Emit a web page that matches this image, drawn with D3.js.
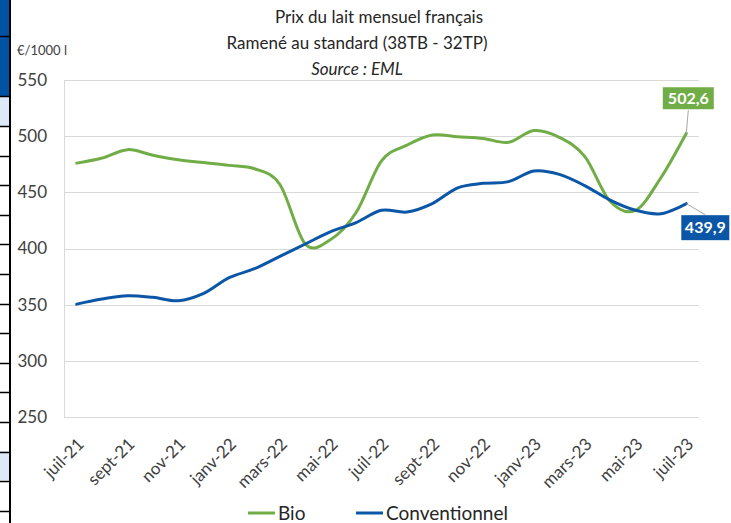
<!DOCTYPE html>
<html>
<head>
<meta charset="utf-8">
<script src="https://cdn.jsdelivr.net/npm/d3@7"></script>
<style>
  body { margin: 0; background: #fff; }
  svg { display: block; font-family: Lato, "Noto Sans", sans-serif; }
</style>
</head>
<body>
<div id="chart"></div>
<script>
// ===================== DATA =====================
const months = ["juil-21","août-21","sept-21","oct-21","nov-21","déc-21",
  "janv-22","févr-22","mars-22","avr-22","mai-22","juin-22",
  "juil-22","août-22","sept-22","oct-22","nov-22","déc-22",
  "janv-23","févr-23","mars-23","avr-23","mai-23","juin-23","juil-23"];
const bio = [476, 480.5, 488, 483, 479, 476.5, 474, 471, 457, 404, 408, 432,
  478, 492, 501, 499.5, 498, 494.5, 505, 499, 482, 442, 434, 463, 502.6];
const conventionnel = [350.5, 355, 358, 356.5, 353.5, 360, 374, 382, 393, 404, 415, 423,
  434, 432.5, 440, 454, 458, 459.5, 469, 466, 456, 443, 434, 431, 439.9];
const yTicks = [250, 300, 350, 400, 450, 500, 550];
const titleLines = ["Prix du lait mensuel français", "Ramené au standard (38TB - 32TP)", "Source : EML"];

const GREEN = "#70ad47", BLUE = "#0b56a6";

// ===================== CHART =====================
const width = 731, height = 523;
const svg = d3.select("#chart").append("svg")
  .attr("width", width)
  .attr("height", height);

// bits of the spreadsheet showing on the left
svg.append("rect").attr("x", 0).attr("y", 0).attr("width", 9).attr("height", 96).attr("fill", "#0052a3");
svg.append("rect").attr("x", 0).attr("y", 96).attr("width", 9).attr("height", 30).attr("fill", "#dde9f6");
svg.append("rect").attr("x", 0).attr("y", 451).attr("width", 9).attr("height", 29).attr("fill", "#dde9f6");
const rows = [36, 96];
for (let y = 126; y < height; y += 29.6) rows.push(Math.round(y));
svg.selectAll("line.row").data(rows).enter().append("line")
  .attr("x1", 0).attr("x2", 10).attr("y1", d => d + 0.5).attr("y2", d => d + 0.5)
  .attr("stroke", "#000").attr("stroke-width", 1.5);
svg.append("line").attr("x1", 10).attr("x2", 10).attr("y1", 0).attr("y2", height)
  .attr("stroke", "#000").attr("stroke-width", 2);

const x = d3.scalePoint().domain(months).range([64, 699]).padding(0.5);
const y = d3.scaleLinear().domain([250, 550]).range([417, 80]);

// grid
svg.append("g").selectAll("line").data(yTicks).enter().append("line")
  .attr("x1", 64).attr("x2", 699)
  .attr("y1", d => Math.round(y(d)) + 0.5).attr("y2", d => Math.round(y(d)) + 0.5)
  .attr("stroke", "#d9d9d9");
svg.append("line").attr("x1", 64.5).attr("x2", 64.5).attr("y1", y(550)).attr("y2", y(250))
  .attr("stroke", "#d9d9d9");

// y labels
svg.append("g").selectAll("text").data(yTicks).enter().append("text")
  .attr("x", 47).attr("y", d => y(d)).attr("dy", "0.35em")
  .attr("text-anchor", "end").attr("font-size", 17).attr("fill", "#404040")
  .text(d => d);
svg.append("text").attr("x", 17).attr("y", 55).attr("font-size", 13).attr("fill", "#404040")
  .text("€/1000 l");

// x labels
svg.append("g").selectAll("text").data(months.filter((d, i) => i % 2 === 0)).enter().append("text")
  .attr("transform", d => `translate(${x(d) + 4},${441}) rotate(-45)`)
  .attr("dy", "0.35em")
  .attr("text-anchor", "end").attr("font-size", 17).attr("fill", "#404040")
  .text(d => d);

// title
svg.append("g").selectAll("text").data(titleLines).enter().append("text")
  .attr("x", (d, i) => i === 0 ? 379 : 357)
  .attr("y", (d, i) => 23 + i * 26)
  .attr("text-anchor", "middle").attr("font-size", 17).attr("fill", "#262626")
  .attr("font-style", (d, i) => i === 2 ? "italic" : "normal")
  .text(d => d);

// lines
const line = d3.line()
  .x((d, i) => x(months[i]))
  .y(d => y(d))
  .curve(d3.curveCatmullRom.alpha(0));

svg.append("path").datum(bio).attr("d", line)
  .attr("fill", "none").attr("stroke", GREEN).attr("stroke-width", 3).attr("stroke-linecap", "round");
svg.append("path").datum(conventionnel).attr("d", line)
  .attr("fill", "none").attr("stroke", BLUE).attr("stroke-width", 3).attr("stroke-linecap", "round");

// last-value labels
const last = months.length - 1;
const fmt = v => d3.format(".1f")(v).replace(".", ",");
const tags = [
  { v: bio[last], c: GREEN, dx: 2, dy: -35, lx: 2, ly: -23, w: 51, h: 22 },
  { v: conventionnel[last], c: BLUE, dx: 19, dy: 24, lx: 19, ly: 11, w: 48, h: 25 }
];
tags.forEach(t => {
  const px = x(months[last]), py = y(t.v);
  svg.append("line").attr("x1", px).attr("y1", py).attr("x2", px + t.lx).attr("y2", py + t.ly)
    .attr("stroke", "#a6a6a6").attr("stroke-width", 1);
  svg.append("rect").attr("x", px + t.dx - t.w / 2).attr("y", py + t.dy - t.h / 2)
    .attr("width", t.w).attr("height", t.h).attr("fill", t.c);
  svg.append("text").attr("x", px + t.dx).attr("y", py + t.dy).attr("dy", "0.36em")
    .attr("text-anchor", "middle").attr("font-size", 16).attr("font-weight", "bold")
    .attr("fill", "#fff").text(fmt(t.v));
});

// legend
const legend = [{ name: "Bio", c: GREEN, x: 248 }, { name: "Conventionnel", c: BLUE, x: 356 }];
legend.forEach(l => {
  svg.append("line").attr("x1", l.x).attr("x2", l.x + 27).attr("y1", 513).attr("y2", 513)
    .attr("stroke", l.c).attr("stroke-width", 3);
  svg.append("text").attr("x", l.x + 30).attr("y", 513).attr("dy", "0.35em")
    .attr("font-size", 19).attr("fill", "#262626").text(l.name);
});
</script>
</body>
</html>
